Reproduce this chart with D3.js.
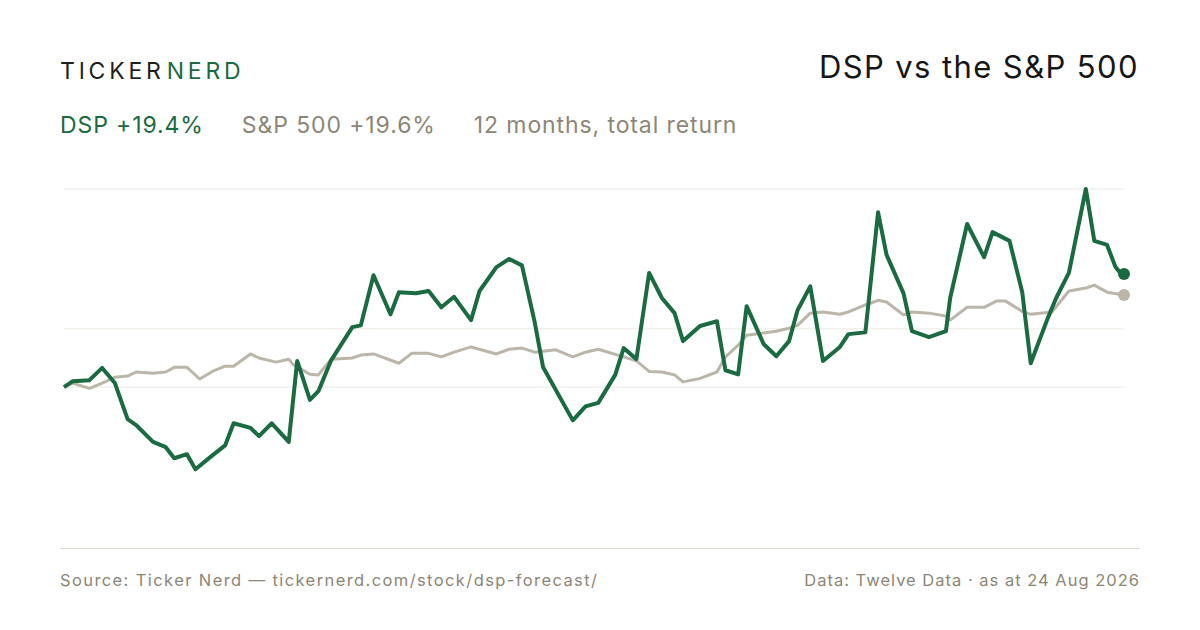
<!DOCTYPE html>
<html><head><meta charset="utf-8">
<script src="https://cdn.jsdelivr.net/npm/d3@7"></script>
<style>body{margin:0;background:#fff}svg{display:block;font-family:Inter,"Noto Sans",sans-serif}</style>
</head><body><svg id="c"></svg>
<script>
// trading day index, % total return
const dspDays = [0,2,6,9,12,15,17,21,24,26,29,31,35,38,40,44,46,49,53,55,58,60,63,68,70,73,77,79,83,86,89,92,96,98,102,105,108,111,113,120,123,126,130,132,135,138,141,144,146,150,154,156,159,161,165,168,171,173,176,179,183,185,189,192,194,198,200,204,208,209,213,217,219,223,226,228,232,234,237,241,243,246,248,249,250];
const dspVals = [0,1.0,1.2,3.3,0.7,-5.5,-6.5,-9.4,-10.3,-12.2,-11.5,-14.1,-11.7,-10.0,-6.2,-7.0,-8.4,-6.2,-9.4,4.5,-2.2,-0.7,4.6,10.3,10.6,19.2,12.5,16.3,16.1,16.5,13.7,15.5,11.5,16.5,20.6,22.0,20.9,11.2,3.4,-5.7,-3.3,-2.7,2.1,6.7,4.8,19.6,15.3,12.7,7.9,10.5,11.3,2.9,2.2,13.9,7.4,5.3,7.9,13.2,17.3,4.5,6.9,9.1,9.4,30.0,22.7,16.1,9.6,8.6,9.6,15.3,28.0,22.3,26.6,25.1,16.3,4.1,11.8,15.3,19.6,34.0,25.1,24.4,20.6,19.7,19.4];
const spxDays = [0,2,6,9,12,15,17,21,24,26,29,32,35,38,40,44,46,50,53,54,58,60,63,68,70,73,79,82,86,89,92,96,102,105,108,111,116,120,123,126,132,135,138,141,144,146,150,154,156,159,161,165,168,171,173,176,179,183,185,189,192,194,198,200,204,208,209,213,217,220,222,226,228,233,237,241,243,246,250];
const spxVals = [0,0.7,-0.2,0.7,1.7,1.9,2.6,2.4,2.6,3.4,3.4,1.4,2.7,3.6,3.6,5.7,5.0,4.3,4.8,3.9,2.2,2.1,4.8,5.0,5.5,5.7,4.1,5.8,5.8,5.2,6.0,6.9,5.7,6.5,6.7,6.0,6.4,5.2,6.0,6.5,5.2,4.5,2.7,2.6,2.1,0.9,1.5,2.6,5.2,7.2,8.9,9.3,9.6,10.1,10.6,12.7,12.9,12.5,12.9,14.1,14.9,14.6,12.4,12.9,12.7,12.2,11.5,13.7,13.7,14.8,14.8,13.0,12.5,12.9,16.5,17.0,17.5,16.3,15.8];
const gridVals = [0, 10, 34];

const W = 1200, H = 630, GREEN = '#1a6a42', GREY = '#bcb5aa', MUTED = '#8c8678';
const svg = d3.select('#c').attr('width', W).attr('height', H);

const x = d3.scaleLinear().domain([0, 250]).range([64, 1124]);
const y = d3.scaleLinear().domain([-27.6, 34]).range([548, 189]);

// header
const logo = svg.append('text').attr('x', 60).attr('y', 79).attr('font-size', 23).attr('letter-spacing', 3.8);
logo.append('tspan').attr('fill', '#1f1f1f').text('TICKER');
logo.append('tspan').attr('fill', GREEN).attr('dx', 2).text('NERD');
svg.append('text').attr('x', 1139).attr('y', 78).attr('text-anchor', 'end')
  .attr('font-size', 31).attr('letter-spacing', 1.4).attr('fill', '#161616').text('DSP vs the S&P 500');

const sub = svg.append('text').attr('x', 60).attr('y', 133).attr('font-size', 23).attr('letter-spacing', 0.9);
sub.append('tspan').attr('fill', GREEN).text('DSP +19.4%');
sub.append('tspan').attr('fill', MUTED).attr('dx', 38).text('S&P 500 +19.6%');
sub.append('tspan').attr('fill', MUTED).attr('dx', 38).text('12 months, total return');

// grid
svg.append('g').selectAll('line').data(gridVals).join('line')
  .attr('x1', 64).attr('x2', 1124).attr('y1', d => y(d)).attr('y2', d => y(d))
  .attr('stroke', '#ece9e2').attr('stroke-width', 1);
svg.append('line').attr('x1', 60).attr('x2', 1140).attr('y1', 548.5).attr('y2', 548.5)
  .attr('stroke', '#dcd8cf').attr('stroke-width', 1);

const line = d3.line().x(d => x(d[0])).y(d => y(d[1]));
const spx = d3.zip(spxDays, spxVals), dsp = d3.zip(dspDays, dspVals);

svg.append('path').attr('d', line(spx)).attr('fill', 'none').attr('stroke', GREY)
  .attr('stroke-width', 3).attr('stroke-linejoin', 'round');
svg.append('path').attr('d', line(dsp)).attr('fill', 'none').attr('stroke', GREEN)
  .attr('stroke-width', 4).attr('stroke-linejoin', 'round');
svg.append('circle').attr('cx', x(250)).attr('cy', y(spxVals[spxVals.length - 1])).attr('r', 6).attr('fill', GREY);
svg.append('circle').attr('cx', x(250)).attr('cy', y(dspVals[dspVals.length - 1])).attr('r', 6).attr('fill', GREEN);

// footer
svg.append('text').attr('x', 60).attr('y', 586).attr('font-size', 16.5).attr('letter-spacing', 1.4).attr('fill', MUTED)
  .text('Source: Ticker Nerd — tickernerd.com/stock/dsp-forecast/');
svg.append('text').attr('x', 1140).attr('y', 586).attr('text-anchor', 'end').attr('font-size', 16.5).attr('letter-spacing', 1.0).attr('fill', MUTED)
  .text('Data: Twelve Data · as at 24 Aug 2026');
</script></body></html>
